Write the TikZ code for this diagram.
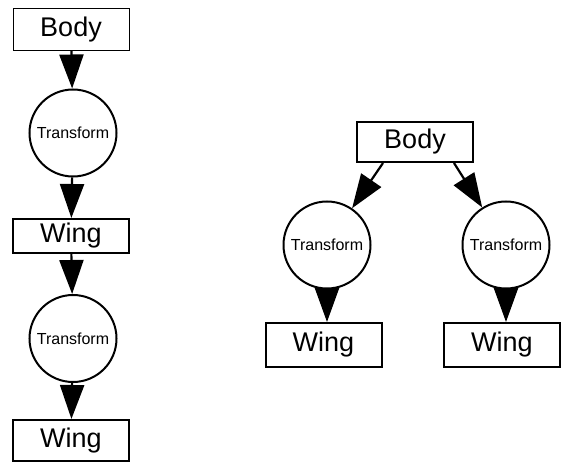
\documentclass[tikz,border=0pt]{standalone}
\usepackage{fontspec}
\setmainfont{Liberation Sans}
\usetikzlibrary{arrows.meta}

\begin{document}
\begin{tikzpicture}[x=1pt,y=-1pt,
  part/.style={draw,rectangle,line width=2pt,minimum width=116pt,inner sep=0pt,font=\fontsize{27}{27}\selectfont},
  xform/.style={draw,circle,line width=2pt,minimum size=87pt,inner sep=0pt,font=\fontsize{16}{16}\selectfont},
  link/.style={line width=2.2pt,-{Triangle[width=24pt,length=34pt]}}]
\useasboundingbox (0,0) rectangle (565,473);
% left: one chain
\node[part,line width=1pt,minimum height=42pt] (body) at (71,29.5) {Body};
\node[xform] (t1) at (73,133) {Transform};
\node[part,minimum height=34pt] (w1) at (71,236) {Wing};
\node[xform] (t2) at (73,338.5) {Transform};
\node[part,minimum height=41pt] (w2) at (71,440.5) {Wing};
\draw[link] (body) -- (t1);
\draw[link] (t1) -- (w1);
\draw[link] (w1) -- (t2);
\draw[link] (t2) -- (w2);
% right: one body, two wings
\node[part,minimum height=40pt] (rbody) at (415,142) {Body};
\node[xform] (lt) at (327,245) {Transform};
\node[xform] (rt) at (506,245) {Transform};
\node[part,minimum height=44pt] (lw) at (323.5,345) {Wing};
\node[part,minimum height=44pt] (rw) at (502,345) {Wing};
\draw[link] ([xshift=-32pt]rbody.south) -- (lt);
\draw[link] ([xshift=39pt]rbody.south) -- (rt);
\draw[link] (lt.south) -- (lt.south |- lw.north);
\draw[link] (rt.south) -- (rt.south |- rw.north);
\end{tikzpicture}
\end{document}
